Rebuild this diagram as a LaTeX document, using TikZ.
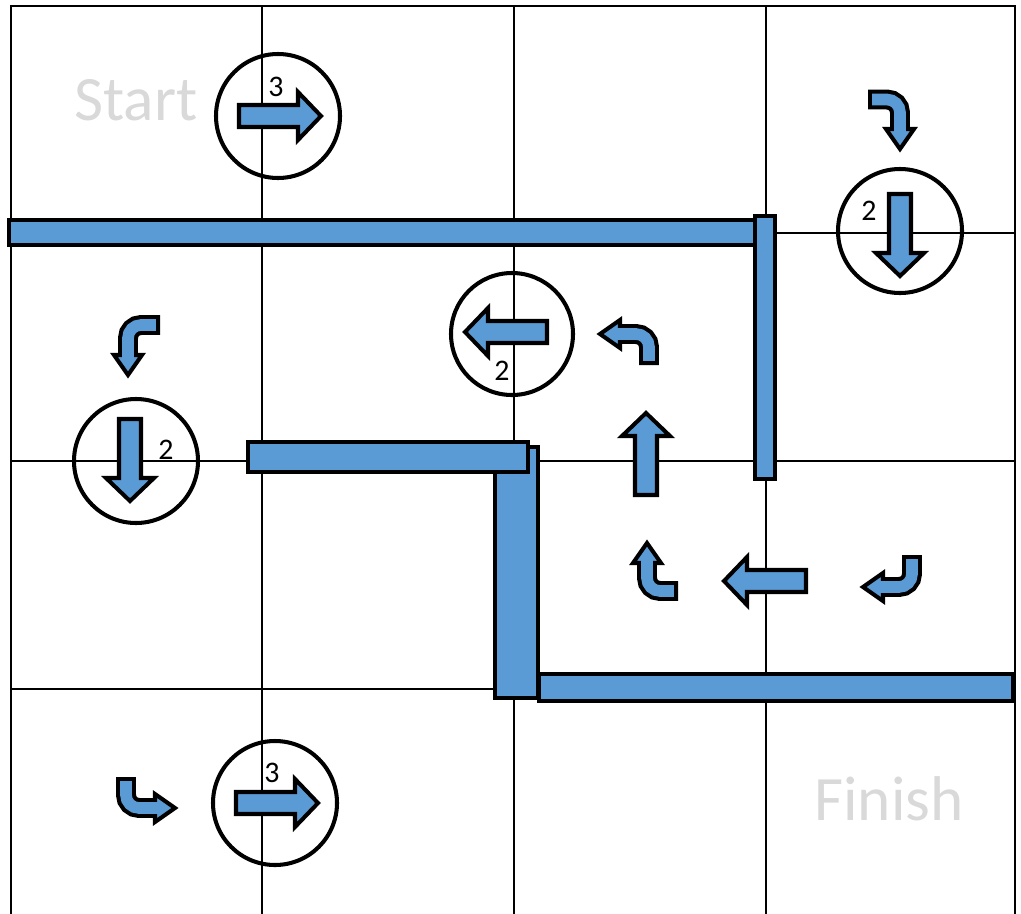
\documentclass[tikz,border=0pt]{standalone}
\usepackage{fontspec}
\setmainfont{Carlito}
\usepackage{tikz}
\usetikzlibrary{calc}
\definecolor{wallblue}{RGB}{91,155,213}
\definecolor{labelgray}{RGB}{217,217,217}
\newcommand{\edgew}{2.3pt}
\newcommand{\bentarrow}[4]{%
  \draw[bentback] (#1) -- (#2) -- (#3);
  \draw[arrowbox] (#3) -- ($(#3)!0.7!90:(#4)$) -- (#4) -- ($(#3)!0.7!-90:(#4)$) -- cycle;
  \draw[bentfront] (#1) -- (#2) -- ($(#3)!0.3!(#4)$);
}

\begin{document}
\begin{tikzpicture}[x=0.02cm,y=-0.02cm]
                %\draw[help lines] (0,0) grid (1021,913);
                \tikzset{gridline/.style={black, line width=1.5pt, line cap=rect},
                         wall/.style={fill=wallblue, draw=black, line width=2.8pt},
                         ring/.style={draw=black, line width=\edgew},
                         arrowbox/.style={fill=wallblue, draw=black, line width=\edgew, line join=miter},
                         bentback/.style={black, line width=11.3pt, rounded corners=0.26cm},
                         bentfront/.style={wallblue, line width=6.6pt, rounded corners=0.26cm, shorten <=\edgew},
                         bigword/.style={text=labelgray, font=\fontsize{36}{40}\selectfont, anchor=base, inner sep=0pt},
                         count/.style={font=\fontsize{17}{19}\selectfont, inner sep=0pt},
                         blockarrow/.pic={\draw[arrowbox] (0,-11) -- (59,-11) -- (59,-24) -- (82,0) -- (59,24) -- (59,11) -- (0,11) -- cycle;}}
                \useasboundingbox (0,0) rectangle (1021,913);
                \foreach \x in {11,262,514,766,1015}
                    \draw[gridline] (\x,6) -- (\x,913);
                \foreach \y in {6,233,461,689}
                    \draw[gridline] (11,\y) -- (1015,\y);
                % walls
                \draw[wall] (9,220) rectangle (756,245);
                \draw[wall] (755,216) rectangle (775,479);
                \draw[wall] (539,674) rectangle (1013,701);
                \draw[wall] (495,447) rectangle (538,698);
                \draw[wall] (248,442) rectangle (528,472);
                % circles
                \draw[ring] (278,116) circle[radius=62];
                \draw[ring] (900,231) circle[radius=62];
                \draw[ring] (512,334) circle[radius=61];
                \draw[ring] (136,461) circle[radius=62];
                \draw[ring] (275,803) circle[radius=62];
                \pic at (239,116) {blockarrow};
                \pic[rotate=-90] at (900,194) {blockarrow};
                \pic[rotate=180] at (547,332) {blockarrow};
                \pic[rotate=-90] at (130,419) {blockarrow};
                \pic at (236,803) {blockarrow};
                \pic[rotate=90] at (646,495) {blockarrow};
                \pic[rotate=180] at (806,581) {blockarrow};
                \bentarrow{868,99.5}{900,99.5}{900,129}{900,149}
                \bentarrow{160,325}{128,325}{128,355}{128,375}
                \bentarrow{126,777}{126,808}{155,808}{175,808}
                \bentarrow{649,365}{649,334}{620,334}{600,334}
                \bentarrow{678,591}{647,591}{647,563}{647,543}
                \bentarrow{912,555}{912,587}{883,587}{863,587}
                \node[bigword] (start) at (136,120) {Start};
                \node[bigword] (finish) at (889,820) {Finish};
                \node[count] (n1) at (276,87) {3};
                \node[count] (n2) at (869,211) {2};
                \node[count] (n3) at (502,371) {2};
                \node[count] (n4) at (166,450) {2};
                \node[count] (n5) at (272,773) {3};
        \end{tikzpicture}
\end{document}
